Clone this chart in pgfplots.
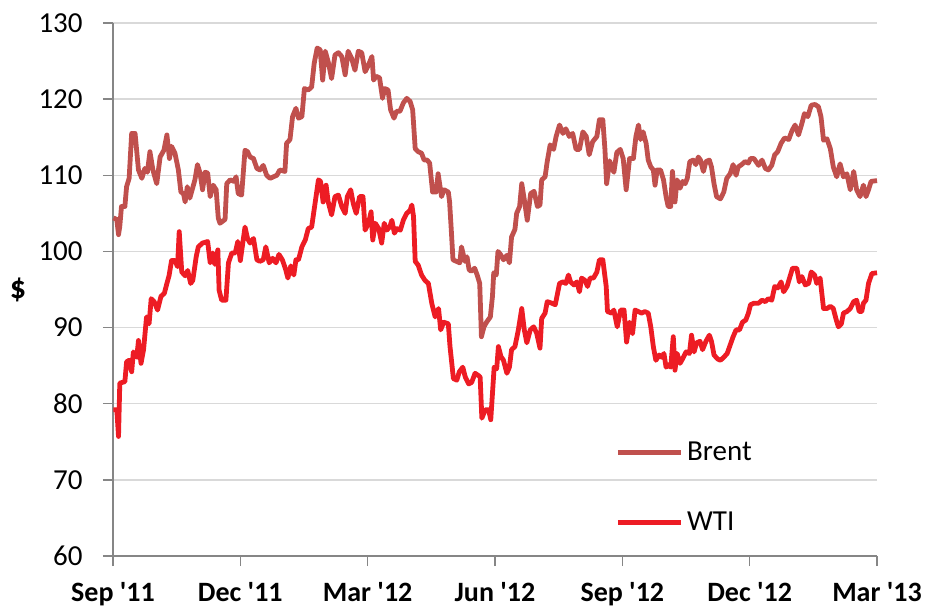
\documentclass[border=0pt]{standalone}
\usepackage{pgfplots}
\pgfplotsset{compat=1.18}
\usepackage{fontspec}
\setmainfont{Carlito}
\newfontfamily\carl{Carlito}
\definecolor{brent}{RGB}{192,80,77}
\definecolor{wti}{RGB}{237,28,36}
\definecolor{gridc}{RGB}{217,217,217}
\definecolor{axc}{RGB}{134,134,134}

% months since 1 Sep 2011, price in $
\pgfplotstableread{
m v
0.01 104.4
0.09 104.2
0.13 102.2
0.16 103.3
0.20 105.9
0.28 105.9
0.32 108.5
0.38 109.6
0.44 115.5
0.52 115.5
0.60 110.7
0.68 109.6
0.75 110.9
0.81 110.4
0.87 113.1
0.94 110.7
1.03 108.9
1.11 112.4
1.20 113.3
1.27 115.3
1.33 112.2
1.38 113.8
1.46 112.9
1.54 110.7
1.60 107.8
1.66 107.6
1.70 106.5
1.75 108.5
1.81 107.0
1.93 109.4
1.99 111.4
2.05 110.3
2.11 108.1
2.17 110.4
2.23 110.3
2.29 107.2
2.36 108.7
2.43 108.1
2.48 104.4
2.52 103.7
2.64 104.2
2.68 108.9
2.76 109.4
2.85 109.2
2.90 109.8
2.95 107.6
3.03 107.4
3.11 113.3
3.17 113.1
3.23 112.4
3.31 112.2
3.39 110.9
3.46 110.7
3.54 111.3
3.62 110.0
3.70 109.6
3.78 109.8
3.86 110.0
3.93 110.7
4.05 110.5
4.09 114.2
4.17 114.7
4.23 117.7
4.31 118.8
4.37 117.5
4.45 117.7
4.51 121.4
4.60 121.2
4.68 121.6
4.74 124.7
4.81 126.7
4.88 126.5
4.94 122.5
5.00 126.3
5.07 124.9
5.15 122.7
5.23 125.8
5.31 126.1
5.39 125.6
5.47 123.2
5.54 126.3
5.62 125.4
5.70 123.8
5.78 126.3
5.86 126.1
5.94 123.6
6.02 124.5
6.10 125.6
6.14 122.5
6.20 123.0
6.28 122.8
6.35 120.1
6.40 121.4
6.48 121.2
6.54 118.6
6.62 117.5
6.68 118.4
6.76 118.4
6.84 119.5
6.92 120.1
7.00 119.7
7.06 118.6
7.12 113.5
7.19 113.1
7.27 112.9
7.33 112.0
7.40 112.0
7.46 111.6
7.53 107.8
7.61 107.8
7.66 110.2
7.74 107.2
7.80 108.1
7.90 107.8
7.93 106.5
7.97 102.8
8.01 98.9
8.09 98.7
8.17 98.5
8.21 100.6
8.29 98.7
8.34 99.3
8.39 97.6
8.44 97.4
8.52 97.8
8.58 96.9
8.64 95.8
8.68 88.8
8.74 90.1
8.80 90.7
8.89 91.4
8.94 94.1
8.97 97.2
9.03 96.9
9.07 100.0
9.13 99.6
9.20 98.9
9.28 99.5
9.34 98.5
9.39 101.9
9.47 102.9
9.51 105.0
9.58 105.9
9.63 108.9
9.69 106.8
9.76 104.1
9.84 107.6
9.92 107.9
10.00 105.9
10.06 106.1
10.10 109.4
10.18 109.8
10.23 111.8
10.30 114.0
10.38 113.4
10.44 115.1
10.52 116.6
10.60 115.5
10.67 116.1
10.75 115.1
10.83 115.5
10.91 113.4
10.99 113.4
11.07 115.7
11.15 115.1
11.22 112.7
11.30 114.4
11.40 115.1
11.46 117.3
11.54 117.3
11.59 113.4
11.63 108.9
11.70 111.9
11.75 111.1
11.80 110.4
11.87 113.0
11.95 113.4
12.02 112.2
12.09 108.1
12.17 112.2
12.26 112.2
12.32 115.1
12.38 116.6
12.43 114.7
12.49 115.7
12.56 114.2
12.61 112.0
12.67 111.1
12.73 110.7
12.77 108.7
12.82 110.7
12.90 110.7
12.97 109.4
13.03 107.2
13.08 105.9
13.14 105.9
13.18 110.5
13.24 106.5
13.29 109.4
13.36 108.3
13.42 109.2
13.48 108.9
13.53 109.6
13.59 111.8
13.67 112.0
13.73 111.4
13.79 112.4
13.84 112.0
13.91 110.5
13.97 111.8
14.05 112.0
14.10 111.1
14.16 108.9
14.22 107.2
14.31 106.9
14.39 107.8
14.46 109.6
14.54 110.2
14.61 111.4
14.68 110.0
14.73 111.1
14.81 111.4
14.89 111.8
14.97 111.6
15.02 112.2
15.10 112.2
15.21 111.3
15.29 112.0
15.37 110.9
15.44 110.7
15.52 111.3
15.59 112.7
15.66 113.1
15.74 114.2
15.82 114.9
15.92 114.7
16.00 115.9
16.07 116.6
16.15 115.3
16.23 116.8
16.29 118.1
16.37 117.7
16.45 119.2
16.54 119.3
16.62 119.0
16.68 117.7
16.74 114.6
16.82 114.8
16.90 113.5
16.97 111.1
17.05 109.8
17.13 111.5
17.21 109.8
17.29 110.2
17.37 108.1
17.45 110.5
17.52 108.1
17.60 107.2
17.68 108.7
17.74 107.2
17.80 108.1
17.86 109.2
18.00 109.3
}\brenttab

\pgfplotstableread{
m v
0.01 79.2
0.09 79.2
0.13 75.7
0.16 82.7
0.28 82.9
0.32 85.5
0.38 85.7
0.44 84.2
0.48 86.8
0.56 86.1
0.60 88.3
0.66 85.3
0.72 87.1
0.79 91.4
0.85 90.5
0.90 93.8
0.97 93.4
1.05 92.3
1.13 94.1
1.21 94.5
1.27 95.8
1.32 96.8
1.38 98.8
1.46 98.8
1.52 98.0
1.56 102.6
1.62 97.3
1.70 96.8
1.76 97.5
1.83 95.8
1.88 96.2
1.96 99.3
2.01 100.6
2.11 101.1
2.23 101.3
2.29 98.5
2.35 99.8
2.40 98.3
2.47 100.2
2.50 94.9
2.56 93.6
2.66 93.6
2.72 98.5
2.80 99.8
2.88 99.8
2.94 101.3
3.00 98.8
3.11 103.2
3.17 101.7
3.23 101.1
3.31 101.7
3.39 98.9
3.46 98.7
3.54 98.9
3.60 100.6
3.68 98.5
3.76 99.1
3.84 98.5
3.91 99.6
3.99 98.9
4.07 97.6
4.12 96.5
4.19 98.1
4.26 96.9
4.31 98.9
4.37 98.9
4.45 100.6
4.53 101.5
4.60 103.0
4.68 103.2
4.76 106.3
4.84 109.4
4.89 109.2
4.95 106.5
5.02 108.7
5.07 106.5
5.15 104.8
5.23 107.2
5.31 107.4
5.39 105.9
5.47 105.0
5.52 107.2
5.60 108.1
5.66 106.3
5.73 105.0
5.81 107.2
5.89 107.2
5.94 102.8
6.02 103.7
6.08 105.2
6.12 101.5
6.18 103.7
6.26 103.0
6.33 101.1
6.39 103.7
6.45 102.8
6.52 103.2
6.57 104.1
6.63 102.4
6.69 103.0
6.77 102.8
6.84 104.1
6.92 105.0
7.00 105.4
7.04 106.1
7.08 104.6
7.12 98.7
7.19 98.2
7.27 96.9
7.35 96.2
7.43 95.8
7.51 93.2
7.59 91.4
7.67 92.5
7.72 89.7
7.79 90.7
7.90 90.5
7.94 87.5
8.02 83.3
8.10 83.1
8.16 84.2
8.24 84.8
8.30 83.5
8.38 82.6
8.45 82.8
8.53 84.0
8.61 83.7
8.65 83.5
8.69 78.1
8.77 79.2
8.85 79.2
8.90 77.9
8.98 84.8
9.04 84.6
9.08 87.5
9.14 86.2
9.20 85.7
9.28 84.0
9.34 84.8
9.39 87.1
9.47 87.5
9.55 89.7
9.63 92.5
9.69 89.7
9.75 88.0
9.83 89.7
9.91 90.1
9.98 89.3
10.06 87.3
10.10 91.2
10.18 91.9
10.23 93.4
10.34 93.2
10.42 93.0
10.52 95.8
10.60 96.0
10.67 95.8
10.73 96.9
10.78 96.0
10.86 95.6
10.93 96.0
10.99 94.7
11.04 96.5
11.12 96.2
11.18 95.4
11.24 96.5
11.32 96.5
11.40 97.3
11.46 98.9
11.54 98.9
11.62 95.4
11.65 92.1
11.75 91.9
11.80 92.3
11.88 90.1
11.96 92.3
12.04 92.3
12.10 88.1
12.17 90.7
12.24 89.2
12.30 92.3
12.38 92.1
12.45 91.9
12.53 92.1
12.61 91.9
12.67 90.1
12.73 87.5
12.79 85.7
12.87 86.4
12.93 86.1
12.98 86.6
13.03 84.8
13.08 85.1
13.14 84.8
13.20 88.8
13.24 84.4
13.29 86.6
13.36 85.3
13.42 85.9
13.50 86.8
13.58 86.6
13.63 89.0
13.69 86.8
13.75 88.0
13.83 88.2
13.89 87.1
13.97 88.2
14.05 89.0
14.10 88.2
14.16 86.4
14.24 85.9
14.31 85.7
14.39 86.1
14.47 86.6
14.54 87.7
14.61 88.8
14.68 89.7
14.76 89.7
14.83 90.7
14.91 91.0
14.97 91.9
15.02 93.0
15.10 93.2
15.21 93.2
15.29 93.6
15.37 93.4
15.44 93.8
15.52 93.6
15.59 95.4
15.66 95.2
15.74 96.0
15.80 94.7
15.88 95.4
15.95 96.7
16.01 97.8
16.11 97.8
16.17 96.0
16.23 96.7
16.31 95.6
16.39 95.8
16.45 97.3
16.53 96.9
16.58 95.8
16.66 96.5
16.74 92.5
16.82 92.5
16.90 92.8
16.97 92.5
17.04 91.0
17.09 90.1
17.16 90.5
17.21 91.9
17.29 92.1
17.37 92.5
17.45 93.4
17.52 93.6
17.58 92.1
17.64 92.1
17.68 93.2
17.74 93.6
17.80 95.8
17.88 97.1
18.00 97.2
}\wtitab

\begin{document}
\begin{tikzpicture}
\begin{axis}[
  scale only axis, width=382pt, height=266.5pt,
  xmin=0, xmax=18, ymin=60, ymax=130,
  axis x line=bottom, axis y line=left,
  axis line style={axc, line width=0.75pt, -},
  xtick={0,3,6,9,12,15,18},
  xticklabels={Sep '11,Dec '11,Mar '12,Jun '12,Sep '12,Dec '12,Mar '13},
  ytick={60,70,...,130},
  tick align=outside, major tick length=5pt,
  tick style={axc, line width=0.75pt},
  ymajorgrids, grid style={gridc, line width=0.75pt},
  xticklabel style={font=\carl\fontsize{14}{16}\selectfont\bfseries, inner sep=0pt, anchor=north, yshift=-8pt},
  yticklabel style={font=\carl\fontsize{14.5}{16}\selectfont, inner sep=0pt, anchor=east, xshift=-10pt,
    /pgf/number format/assume math mode=true},
  ylabel={\carl\fontsize{16}{18}\selectfont\bfseries\$},
  ylabel style={rotate=-90, at={(rel axis cs:0,0.5)}, anchor=center, xshift=-47.5pt},
  legend style={draw=none, fill=none, at={(rel axis cs:0.657,0.222)}, anchor=north west,
    font=\carl\fontsize{14.5}{16}\selectfont, row sep=20pt, inner sep=0pt},
  legend cell align=left,
  legend image code/.code={\draw[#1] (0pt,0pt) -- (31.5pt,0pt);},
  clip=false,
]
\addplot[brent, line width=2.4pt, line join=round] table[x=m, y=v] {\brenttab};
\addlegendentry{Brent}
\addplot[wti, line width=2.4pt, line join=round] table[x=m, y=v] {\wtitab};
\addlegendentry{WTI}
\coordinate (ll) at (rel axis cs:0,0);
\coordinate (ur) at (rel axis cs:1,1);
\end{axis}
\pgfresetboundingbox
\path ([xshift=-56.5pt,yshift=-26.5pt]ll) rectangle ([xshift=25.5pt,yshift=11.5pt]ur);
\end{tikzpicture}
\end{document}
